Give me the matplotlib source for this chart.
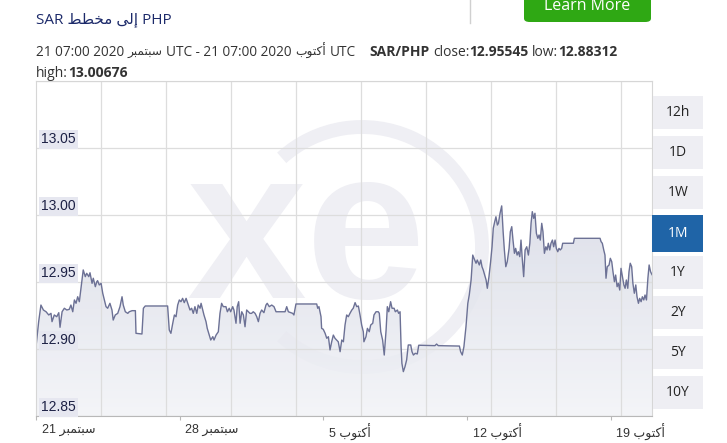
import matplotlib
matplotlib.use("Agg")
import matplotlib.pyplot as plt
import numpy as np
from matplotlib.patches import Rectangle, FancyBboxPatch, Arc
from matplotlib.colors import LinearSegmentedColormap
from matplotlib.transforms import ScaledTranslation, IdentityTransform, blended_transform_factory

# SAR/PHP, 1 month, days counted from 21 Sep 2020 07:00 UTC
days = [
    0.00, 0.13, 0.24, 0.36, 0.49, 0.62, 0.73, 0.78, 0.89, 1.01,
    1.11, 1.17, 1.27, 1.38, 1.50, 1.62, 1.70, 1.79, 1.87, 1.95,
    2.03, 2.11, 2.19, 2.30, 2.40, 2.47, 2.57, 2.63, 2.73, 2.79,
    2.89, 2.96, 3.00, 3.08, 3.17, 3.25, 3.33, 3.41, 3.49, 3.60,
    3.70, 3.76, 3.86, 3.98, 4.09, 4.19, 4.25, 4.35, 4.47, 4.54,
    4.68, 4.84, 4.87, 5.16, 5.23, 5.32, 6.41, 6.49, 6.57, 6.66,
    6.74, 6.82, 6.90, 6.98, 7.06, 7.14, 7.22, 7.31, 7.39, 7.50,
    7.58, 7.66, 7.74, 7.83, 7.90, 7.99, 8.04, 8.12, 8.18, 8.28,
    8.34, 8.44, 8.51, 8.61, 8.67, 8.77, 8.88, 8.96, 9.04, 9.12,
    9.25, 9.32, 9.41, 9.48, 9.58, 9.64, 9.74, 9.80, 9.87, 9.94,
    10.02, 10.10, 10.18, 10.26, 10.34, 10.42, 10.50, 10.58, 10.67, 10.75,
    10.83, 10.91, 10.99, 11.10, 11.20, 11.26, 11.36, 11.48, 11.59, 11.69,
    12.13, 12.21, 12.29, 12.50, 12.56, 12.66, 13.67, 13.72, 13.78, 13.83,
    13.88, 13.91, 13.99, 14.08, 14.16, 14.24, 14.32, 14.40, 14.48, 14.56,
    14.64, 14.72, 14.81, 14.89, 14.97, 15.05, 15.13, 15.21, 15.29, 15.38,
    15.45, 15.54, 15.62, 15.70, 15.78, 15.86, 15.94, 15.97, 16.07, 16.14,
    16.23, 16.30, 16.40, 16.46, 16.56, 16.67, 16.72, 16.79, 16.88, 16.96,
    17.05, 17.11, 17.18, 17.27, 17.34, 17.44, 17.50, 17.60, 17.66, 17.73,
    17.78, 17.82, 17.89, 17.97, 18.05, 18.13, 18.25, 18.31, 18.38, 18.47,
    18.57, 18.64, 19.43, 19.51, 19.59, 20.62, 20.68, 20.76, 20.84, 20.94,
    21.03, 21.10, 21.19, 21.27, 21.33, 21.43, 21.49, 21.59, 21.66, 21.72,
    21.78, 21.85, 21.92, 21.98, 22.06, 22.14, 22.21, 22.27, 22.34, 22.40,
    22.47, 22.52, 22.60, 22.68, 22.75, 22.81, 22.88, 22.95, 23.04, 23.10,
    23.17, 23.23, 23.30, 23.36, 23.43, 23.49, 23.56, 23.62, 23.68, 23.75,
    23.82, 23.90, 23.98, 24.05, 24.11, 24.17, 24.24, 24.30, 24.37, 24.44,
    24.50, 24.56, 24.63, 24.69, 24.76, 24.83, 24.89, 24.95, 25.02, 25.08,
    25.15, 25.21, 25.28, 25.34, 25.41, 25.47, 25.53, 25.60, 25.65, 26.17,
    26.22, 27.47, 27.52, 27.58, 27.65, 27.71, 27.76, 27.82, 27.91, 27.97,
    28.04, 28.10, 28.17, 28.23, 28.30, 28.36, 28.43, 28.49, 28.56, 28.63,
    28.69, 28.75, 28.82, 28.88, 28.94, 29.01, 29.07, 29.14, 29.21, 29.27,
    29.34, 29.40, 29.47, 29.53, 29.60, 29.66, 29.73, 29.80, 29.86, 29.93,
    30.00]

prices = [
    12.9017, 12.9204, 12.9328, 12.9291, 12.9278, 12.9254, 12.9266, 12.9204, 12.9254, 12.9241,
    12.9271, 12.9162, 12.9278, 12.9304, 12.9291, 12.9296, 12.9328, 12.9278, 12.9366, 12.9341,
    12.9390, 12.9353, 12.9453, 12.9590, 12.9540, 12.9565, 12.9540, 12.9569, 12.9490, 12.9528,
    12.9465, 12.9502, 12.9510, 12.9478, 12.9490, 12.9416, 12.9366, 12.9316, 12.9304, 12.9341,
    12.9291, 12.9216, 12.9254, 12.9266, 12.9316, 12.9390, 12.9328, 12.9278, 12.9266, 12.9278,
    12.9286, 12.9286, 12.9117, 12.9112, 12.9304, 12.9321, 12.9321, 12.9142, 12.9117, 12.9192,
    12.9254, 12.9241, 12.9328, 12.9366, 12.9353, 12.9378, 12.9346, 12.9378, 12.9341, 12.9291,
    12.9304, 12.9266, 12.9316, 12.9266, 12.9328, 12.9304, 12.9341, 12.9291, 12.9254, 12.9204,
    12.9154, 12.9104, 12.9067, 12.9092, 12.9067, 12.9104, 12.9129, 12.9266, 12.9341, 12.9316,
    12.9316, 12.9278, 12.9304, 12.9278, 12.9316, 12.9291, 12.9192, 12.9316, 12.9353, 12.9192,
    12.9278, 12.9254, 12.9166, 12.9291, 12.9278, 12.9266, 12.9266, 12.9278, 12.9266, 12.9241,
    12.9204, 12.9266, 12.9291, 12.9271, 12.9328, 12.9341, 12.9316, 12.9328, 12.9316, 12.9278,
    12.9278, 12.9316, 12.9278, 12.9266, 12.9254, 12.9336, 12.9336, 12.9304, 12.9316, 12.9278,
    12.9241, 12.9154, 12.9147, 12.9117, 12.9080, 12.9092, 12.8993, 12.9054, 12.9104, 12.9080,
    12.9067, 12.9054, 12.8980, 12.9067, 12.9054, 12.9179, 12.9254, 12.9241, 12.9266, 12.9291,
    12.9304, 12.9346, 12.9316, 12.9321, 12.9254, 12.9179, 12.9129, 12.9054, 12.9092, 12.9154,
    12.9129, 12.9179, 12.9192, 12.9254, 12.9278, 12.9278, 12.9266, 12.9129, 12.9067, 12.8955,
    12.9142, 12.9316, 12.9278, 12.9353, 12.9304, 12.9304, 12.9278, 12.9291, 12.9266, 12.9278,
    12.9017, 12.8893, 12.8831, 12.8868, 12.8918, 12.9030, 12.9030, 12.8980, 12.8955, 12.8968,
    12.8963, 12.9028, 12.9025, 12.9037, 12.9025, 12.9022, 12.8980, 12.8955, 12.9017, 12.9166,
    12.9341, 12.9403, 12.9515, 12.9701, 12.9677, 12.9640, 12.9664, 12.9627, 12.9664, 12.9614,
    12.9590, 12.9552, 12.9515, 12.9453, 12.9540, 12.9651, 12.9763, 12.9901, 12.9950, 12.9987,
    12.9925, 12.9938, 13.0013, 13.0068, 12.9875, 12.9739, 12.9614, 12.9651, 12.9751, 12.9875,
    12.9913, 12.9813, 12.9714, 12.9751, 12.9701, 12.9726, 12.9689, 12.9813, 12.9677, 12.9540,
    12.9739, 12.9763, 12.9701, 12.9789, 12.9938, 13.0025, 12.9975, 13.0013, 12.9863, 12.9826,
    12.9851, 12.9813, 12.9938, 12.9875, 12.9714, 12.9763, 12.9739, 12.9789, 12.9739, 12.9789,
    12.9813, 12.9763, 12.9813, 12.9751, 12.9726, 12.9751, 12.9739, 12.9751, 12.9789, 12.9789,
    12.9826, 12.9826, 12.9801, 12.9789, 12.9739, 12.9701, 12.9528, 12.9614, 12.9627, 12.9677,
    12.9651, 12.9577, 12.9502, 12.9552, 12.9465, 12.9490, 12.9440, 12.9602, 12.9540, 12.9478,
    12.9453, 12.9515, 12.9453, 12.9577, 12.9640, 12.9614, 12.9490, 12.9416, 12.9478, 12.9390,
    12.9341, 12.9378, 12.9353, 12.9390, 12.9366, 12.9403, 12.9366, 12.9528, 12.9627, 12.9577,
    12.9555]

y_ticks = [12.85, 12.90, 12.95, 13.00, 13.05]
y_labels = ["12.85", "12.90", "12.95", "13.00", "13.05"]
x_ticks = [0, 7, 14, 21, 28]
x_days = ["21", "28", "5", "12", "19"]
x_months = ["سبتمبر", "سبتمبر", "أكتوب", "أكتوب", "أكتوب"]
ranges = ["12h", "1D", "1W", "1M", "1Y", "2Y", "5Y", "10Y"]
active_range = "1M"

close_v, low_v, high_v = "12.95545", "12.88312", "13.00676"


# --- arabic: matplotlib has no shaping/bidi, so use presentation forms by hand
FORMS = {  # isolated, final, initial, medial
    'ا': ('\uFE8D', '\uFE8E', None, None),
    'أ': ('\uFE83', '\uFE84', None, None),
    'إ': ('\uFE87', '\uFE88', None, None),
    'ب': ('\uFE8F', '\uFE90', '\uFE91', '\uFE92'),
    'ت': ('\uFE95', '\uFE96', '\uFE97', '\uFE98'),
    'خ': ('\uFEA5', '\uFEA6', '\uFEA7', '\uFEA8'),
    'ر': ('\uFEAD', '\uFEAE', None, None),
    'س': ('\uFEB1', '\uFEB2', '\uFEB3', '\uFEB4'),
    'ط': ('\uFEC1', '\uFEC2', '\uFEC3', '\uFEC4'),
    'ك': ('\uFED9', '\uFEDA', '\uFEDB', '\uFEDC'),
    'ل': ('\uFEDD', '\uFEDE', '\uFEDF', '\uFEE0'),
    'م': ('\uFEE1', '\uFEE2', '\uFEE3', '\uFEE4'),
    'و': ('\uFEED', '\uFEEE', None, None),
    'ى': ('\uFEEF', '\uFEF0', None, None),
}

def ar(s):
    out = []
    for i, ch in enumerate(s):
        f = FORMS.get(ch)
        if f is None:
            out.append(ch)
            continue
        prev = s[i-1] if i > 0 else None
        nxt = s[i+1] if i + 1 < len(s) else None
        jp = prev in FORMS and FORMS[prev][2] is not None
        jn = nxt in FORMS and f[2] is not None
        if jp and jn:
            out.append(f[3])
        elif jp:
            out.append(f[1])
        elif jn:
            out.append(f[2])
        else:
            out.append(f[0])
    return ''.join(reversed(out))


W, H = 727, 443
fig = plt.figure(figsize=(W/100, H/100), dpi=100)
fig.patch.set_facecolor('white')

def fx(x): return x / W
def fy(y): return 1 - y / H

HEAD = ['Open Sans', 'DejaVu Sans']
LAB = ['Liberation Sans', 'DejaVu Sans']

# axes
ax = fig.add_axes([fx(36), fy(416), (652-36)/W, (416-81)/H])
ax.set_xlim(0, 30)
ax.set_ylim(12.85, 13.10)
ax.set_facecolor('none')

# watermark (xe logo), in display pixels
wm = '#efeff4'
ring = Arc((362, H-247), 240, 240, theta1=-132, theta2=132, lw=10, color=wm,
           transform=IdentityTransform(), zorder=0.3)
ax.add_patch(ring)
ax.text(fx(306), fy(243), 'xe', transform=fig.transFigure, fontsize=155,
        fontweight='bold', family=LAB, color=wm, ha='center', va='center',
        zorder=0.3)

# gradient fill under the line
poly = ax.fill_between(days, prices, 12.85, color='none', lw=0)
cmap = LinearSegmentedColormap.from_list('g', ['#f2f3f7', '#d8dbe6'])
grad = np.linspace(0, 1, 256).reshape(-1, 1)
im = ax.imshow(grad, extent=[0, 30, 12.85, 13.01], origin='lower', aspect='auto',
               cmap=cmap, zorder=0.5, alpha=0.85)
im.set_clip_path(poly.get_paths()[0], transform=ax.transData)
ax.plot(days, prices, color='#6c7195', lw=1.0, zorder=2)

# grid
ax.set_yticks(y_ticks + [13.10])
ax.set_xticks([k * 76 / 24 for k in range(1, 10)], minor=True)
ax.grid(True, which='major', axis='y', color='#dddddd', lw=0.9, zorder=0.1)
ax.grid(True, which='minor', axis='x', color='#dddddd', lw=0.9, zorder=0.1)
ax.tick_params(axis='y', left=False, labelleft=False)
ax.tick_params(axis='x', which='minor', bottom=False)
for s in ['top', 'right', 'left']:
    ax.spines[s].set_color('#d6d6d6')
ax.spines['bottom'].set_color('#b8b8b8')

# y labels inside the plot
tr = blended_transform_factory(ax.transAxes, ax.transData)
for v, lab in zip(y_ticks, y_labels):
    ax.text(0.008, v + 0.0012, lab, transform=tr, ha='left', va='bottom',
            fontsize=10, family=LAB, color='#1d2145', zorder=3,
            bbox=dict(boxstyle='square,pad=0.16', fc='#e6e7f0', ec='none'))

# x tick labels: number then month
ax.set_xticks(x_ticks)
ax.set_xticklabels([d + ' ' + ar(m) for d, m in zip(x_days, x_months)],
                   family=LAB, fontsize=9, color='#333333', ha='left')
ax.tick_params(axis='x', which='major', length=3, color='#b8b8b8', pad=3)
for lab in ax.get_xticklabels():
    lab.set_transform(lab.get_transform() + ScaledTranslation(4/72, 0, fig.dpi_scale_trans))

# range buttons on the right
for i, r in enumerate(ranges):
    top = 96 + 40 * i
    on = r == active_range
    fc = '#1f64a7' if on else '#eeeef3'
    y0, y1 = (top - 1, top + 36) if on else (top, top + 33)
    x0 = 652 if on else 653
    fig.patches.append(Rectangle((fx(x0), fy(y1)), (703 - x0)/W, (y1 - y0)/H,
                                 transform=fig.transFigure, fc=fc, ec='none'))
    fig.text(fx(678), fy((y0 + y1)/2), r, ha='center', va='center', fontsize=10,
             family=HEAD, color='white' if on else '#222222')

# header
fig.text(fx(36), fy(23), 'SAR ' + ar('إلى مخطط') + ' PHP', fontsize=11,
         family=HEAD, color='#1c2a6a', va='baseline')

rend = fig.canvas.get_renderer()

def width(s, size):
    t = fig.text(0, 0, s, fontsize=size, family=HEAD)
    bb = t.get_window_extent(renderer=rend)
    t.remove()
    return bb.width

sp = width('x x', 10) - width('xx', 10)

def run(x, y, parts):
    # parts: text, weight, size, gap after (in spaces)
    for s, w, size, gap in parts:
        t = fig.text(fx(x), fy(y), s, fontsize=size, family=HEAD, fontweight=w,
                     color='#333333', va='baseline')
        x += t.get_window_extent(renderer=rend).width + gap * sp

run(36, 56, [('21 07:00 2020', 'normal', 9.8, 1), (ar('سبتمبر'), 'normal', 8.8, 1),
             ('UTC - 21 07:00 2020', 'normal', 9.8, 1), (ar('أكتوب'), 'normal', 8.8, 1),
             ('UTC', 'normal', 9.8, 3.5),
             ('SAR/PHP', 'bold', 10, 1), ('close:', 'normal', 10, 0),
             (close_v, 'bold', 10, 1), ('low:', 'normal', 10, 0),
             (low_v, 'bold', 10, 0)])
run(36, 77, [('high:', 'normal', 10, 0), (high_v, 'bold', 10, 0)])

# page bits at the top
fig.lines.append(plt.Line2D([fx(470), fx(470)], [fy(0), fy(23)], color='#d0d0d0',
                            lw=1, transform=fig.transFigure))
fig.patches.append(FancyBboxPatch((fx(524), fy(22)), (651-524)/W, 40/H,
                                  boxstyle='round,pad=0,rounding_size=0.008',
                                  transform=fig.transFigure, fc='#2fa814', ec='none'))
fig.text(fx(587), fy(10), 'Learn More', ha='center', va='baseline', fontsize=11.5,
         family=HEAD, color='white')

fig.savefig('out.png', dpi=100)
